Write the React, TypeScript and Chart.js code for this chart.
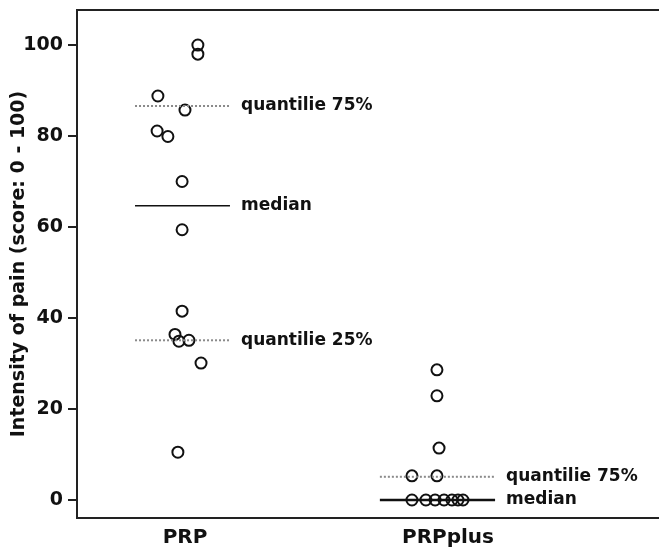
import React, { useEffect, useRef } from "react";
import { Chart, registerables } from "chart.js";

Chart.register(...registerables);

const categories = ["PRP", "PRPplus"];
const yTicks = [0, 20, 40, 60, 80, 100];

const prpValues = [100, 98, 88.8, 85.7, 81.1, 79.9, 70, 59.4, 41.5, 36.4, 34.9, 35.1, 30.1, 10.5];
const prpJitter = [0.049, 0.049, -0.103, 0, -0.106, -0.065, -0.011, -0.011, -0.011, -0.038, -0.023, 0.015, 0.061, -0.027];

const prpPlusValues = [28.6, 22.9, 11.4, 5.3, 5.3, 0, 0, 0, 0, 0, 0, 0];
const prpPlusJitter = [-0.042, -0.042, -0.034, -0.137, -0.042, -0.137, -0.084, -0.049, -0.015, 0.015, 0.038, 0.057];

const medians = [64.7, 0];
const quantile75 = [86.6, 5.1];
const quantile25 = [35.1, null];
const lineStart = [-0.19, -0.259];
const lineEnd = [0.171, 0.179];
const medianWidths = [1.5, 2.5];

const labelMedian = "median";
const labelQ75 = "quantilie 75%";
const labelQ25 = "quantilie 25%";

const FONT = "'DejaVu Sans', sans-serif";

export default function App() {
  const ref = useRef<HTMLCanvasElement>(null);

  useEffect(() => {
    const canvas = ref.current;
    if (!canvas) return;

    const pointsFor = (vals: number[], jit: number[], c: number) =>
      vals.map((v, i) => ({ x: c + 1 + jit[i], y: v }));

    const datasets: any[] = [];
    const annotations: { c: number; v: number; text: string }[] = [];

    categories.forEach((_, c) => {
      const x0 = c + 1 + lineStart[c];
      const x1 = c + 1 + lineEnd[c];
      datasets.push({
        type: "line",
        data: [{ x: x0, y: medians[c] }, { x: x1, y: medians[c] }],
        borderColor: "#111",
        borderWidth: medianWidths[c],
        pointRadius: 0,
      });
      annotations.push({ c, v: medians[c], text: labelMedian });
      const q75 = quantile75[c];
      if (q75 !== null) {
        datasets.push({
          type: "line",
          data: [{ x: x0, y: q75 }, { x: x1, y: q75 }],
          borderColor: "#8a8a8a",
          borderWidth: 2,
          borderDash: [2, 2],
          pointRadius: 0,
        });
        annotations.push({ c, v: q75, text: labelQ75 });
      }
      const q25 = quantile25[c];
      if (q25 !== null) {
        datasets.push({
          type: "line",
          data: [{ x: x0, y: q25 }, { x: x1, y: q25 }],
          borderColor: "#8a8a8a",
          borderWidth: 2,
          borderDash: [2, 2],
          pointRadius: 0,
        });
        annotations.push({ c, v: q25, text: labelQ25 });
      }
    });

    const pointStyle = {
      type: "scatter",
      pointStyle: "circle",
      pointRadius: 5.5,
      pointBorderWidth: 2,
      borderColor: "#111",
      backgroundColor: "rgba(0,0,0,0)",
      pointBackgroundColor: "rgba(0,0,0,0)",
      pointBorderColor: "#111",
    };
    datasets.push({ ...pointStyle, data: pointsFor(prpValues, prpJitter, 0) });
    datasets.push({ ...pointStyle, data: pointsFor(prpPlusValues, prpPlusJitter, 1) });

    const framePlugin = {
      id: "frame",
      afterDatasetsDraw(chart: any) {
        const { ctx, chartArea, scales } = chart;
        ctx.save();
        ctx.strokeStyle = "#222";
        ctx.lineWidth = 2;
        ctx.beginPath();
        ctx.moveTo(chartArea.left - 1, chartArea.top);
        ctx.lineTo(chartArea.right, chartArea.top);
        ctx.stroke();
        ctx.fillStyle = "#111";
        ctx.font = `bold 17px ${FONT}`;
        ctx.textBaseline = "middle";
        ctx.textAlign = "left";
        annotations.forEach((a) => {
          const x = scales.x.getPixelForValue(a.c + 1 + lineEnd[a.c]) + 11;
          const y = scales.y.getPixelForValue(a.v);
          ctx.fillText(a.text, x, y);
        });
        ctx.restore();
      },
    };

    const chart = new Chart(canvas, {
      type: "scatter",
      data: { datasets },
      options: {
        animation: false,
        responsive: false,
        layout: { autoPadding: false, padding: { top: 10, right: 0, left: 0, bottom: 0 } },
        plugins: { legend: { display: false }, tooltip: { enabled: false } },
        scales: {
          x: {
            type: "linear",
            min: 0.5894,
            max: 2.8023,
            afterBuildTicks: (scale: any) => {
              scale.ticks = categories.map((_, i) => ({ value: i + 1 }));
            },
            afterFit: (scale: any) => {
              scale.height = 31;
              scale.paddingLeft = 0;
              scale.paddingRight = 0;
            },
            grid: { display: false, drawTicks: false },
            border: { display: true, color: "#222", width: 2 },
            ticks: {
              autoSkip: false,
              maxRotation: 0,
              padding: 8,
              color: "#111",
              font: { family: FONT, weight: "bold", size: 20 },
              callback: (v: any) => categories[Math.round(Number(v)) - 1] ?? "",
            },
          },
          y: {
            type: "linear",
            min: -3.96,
            max: 107.7,
            afterBuildTicks: (scale: any) => {
              scale.ticks = yTicks.map((v) => ({ value: v }));
            },
            afterFit: (scale: any) => {
              scale.width = 77;
              scale.paddingTop = 0;
              scale.paddingBottom = 0;
            },
            grid: { drawOnChartArea: false, drawTicks: true, tickLength: 9, color: "#222", lineWidth: 2 },
            border: { display: true, color: "#222", width: 2 },
            ticks: {
              padding: 5,
              color: "#111",
              font: { family: FONT, weight: "bold", size: 19 },
            },
            title: {
              display: true,
              text: "Intensity of pain (score: 0 - 100)",
              color: "#111",
              font: { family: FONT, weight: "bold", size: 19 },
              padding: { top: 8, bottom: 0 },
            },
          },
        },
      },
      plugins: [framePlugin],
    } as any);

    return () => chart.destroy();
  }, []);

  return (
    <div style={{ position: "absolute", left: 0, top: 0, width: 659, height: 549, background: "#fff" }}>
      <canvas ref={ref} width={659} height={549} />
    </div>
  );
}
